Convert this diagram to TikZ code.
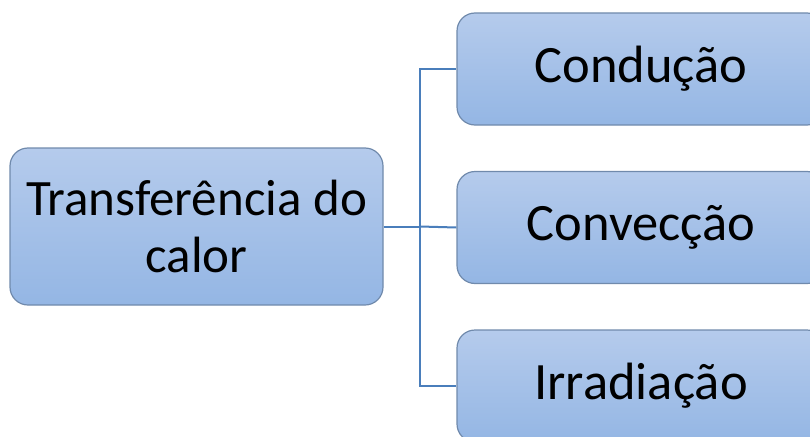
\documentclass[tikz,border=0pt]{standalone}
\usepackage{fontspec}
\setmainfont{Carlito}
\definecolor{boxtop}{RGB}{181,203,236}
\definecolor{boxbot}{RGB}{148,182,228}
\definecolor{boxedge}{RGB}{112,138,172}
\definecolor{linkcol}{RGB}{74,126,187}
\begin{document}
\begin{tikzpicture}[x=1pt,y=-1pt,
  box/.style={draw=boxedge,line width=1.2pt,rounded corners=18pt,
    top color=boxtop,bottom color=boxbot,inner sep=0pt,align=center},
  lfont/.style={font=\fontsize{51}{57}\selectfont},
  rfont/.style={font=\fontsize{52.5}{60}\selectfont},
  link/.style={draw=linkcol,line width=2pt}]
\useasboundingbox (0,0) rectangle (810,436);
\node[box,lfont,minimum width=373pt,minimum height=157pt] (L) at (196.5,226.5) {Transferência do\\calor};
\node[box,rfont,minimum width=368pt,minimum height=112pt] (A) at (641,69) {Condução};
\node[box,rfont,minimum width=368pt,minimum height=112pt] (B) at (641,227.5) {Convecção};
\node[box,rfont,minimum width=368pt,minimum height=112pt] (C) at (641,386) {Irradiação};
\coordinate (J) at (420,226.5);
\draw[link] (L.east) -- (J);
\draw[link] (J) |- (A.west);
\draw[link] (J) -- (B.west);
\draw[link] (J) |- (C.west);
\end{tikzpicture}
\end{document}
